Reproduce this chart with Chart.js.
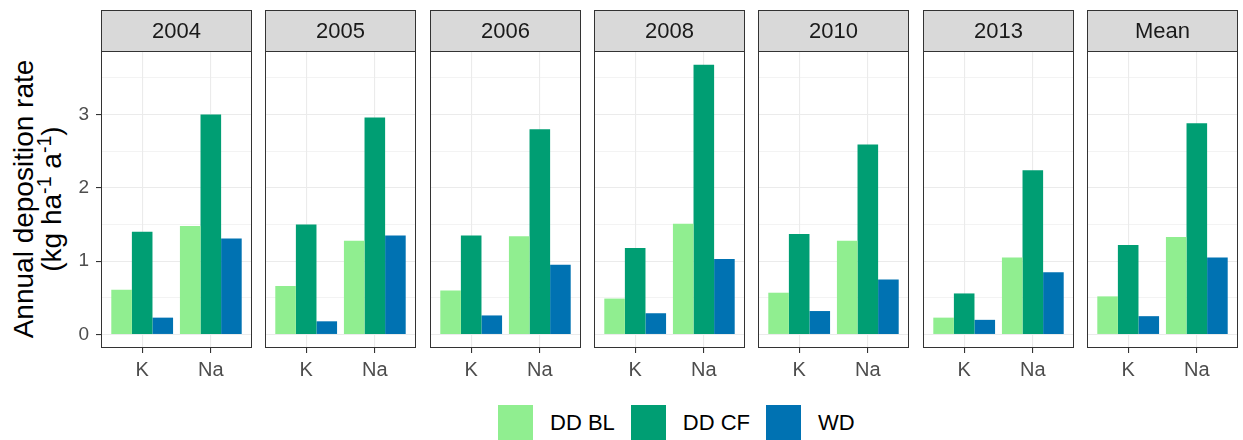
<!DOCTYPE html>
<html>
<head>
<meta charset="utf-8">
<title>Annual deposition rate</title>
<script src="https://cdn.jsdelivr.net/npm/chart.js@4.4.1/dist/chart.umd.min.js"></script>
<style>
  body { margin: 0; background: #fff; font-family: "Liberation Sans", Arial, sans-serif; }
  #wrap { position: relative; width: 1243px; height: 440px; overflow: hidden; }
  #wrap canvas { position: absolute; top: 0; }
  #ytitle {
    position: absolute; width: 340px; height: 56px; left: -132px; top: 171px;
    transform: rotate(-90deg); text-align: center; font-size: 28px; line-height: 28px; color: #000;
  }
  #ytitle sup { font-size: 0.7em; vertical-align: 0.5em; line-height: 0; }
  #legend { position: absolute; left: 498px; top: 405px; display: flex; align-items: center; }
  #legend .key { width: 35px; height: 35px; margin-right: 17px; }
  #legend .lab { font-size: 22px; color: #000; margin-right: 16px; }
</style>
</head>
<body>
<div id="wrap">
  <div id="ytitle">Annual deposition rate<br>(kg ha<sup>-1</sup> a<sup>-1</sup>)</div>
  <div id="legend"></div>
</div>
<script>
// facets and categories
const facets = ['2004', '2005', '2006', '2008', '2010', '2013', 'Mean'];
const elements = ['K', 'Na'];
const seriesNames = ['DD BL', 'DD CF', 'WD'];
const seriesColors = ['#90EE90', '#009E73', '#0072B2'];

// values per facet: [K, Na]
const ddBL = [[0.61, 1.48], [0.66, 1.28], [0.60, 1.34], [0.49, 1.51], [0.57, 1.28], [0.23, 1.05], [0.52, 1.33]];
const ddCF = [[1.40, 3.00], [1.50, 2.96], [1.35, 2.80], [1.18, 3.68], [1.37, 2.59], [0.56, 2.24], [1.22, 2.88]];
const wd   = [[0.23, 1.31], [0.18, 1.35], [0.26, 0.95], [0.29, 1.03], [0.32, 0.75], [0.20, 0.85], [0.25, 1.05]];

const yTicks = [0, 0.5, 1, 1.5, 2, 2.5, 3, 3.5];
const yMin = -0.184, yMax = 3.866;

// panel geometry
const panelLeft0 = 101, panelStep = 164.3, panelWidth = 151;
const panelTop = 51, panelBottom = 348, stripTop = 10;
const yAxisWidth = 40, xAxisHeight = 40;
const H = 440;

Chart.defaults.font.family = "'Liberation Sans', Arial, sans-serif";

// grey strip with the facet name, plus the dark panel frame
const facetFrame = {
  id: 'facetFrame',
  afterDraw(chart, args, opts) {
    const { ctx, chartArea: a } = chart;
    ctx.save();
    ctx.fillStyle = '#d9d9d9';
    ctx.strokeStyle = '#333333';
    ctx.lineWidth = 1;
    ctx.fillRect(a.left, stripTop, a.right - a.left, panelTop - stripTop);
    ctx.strokeRect(Math.round(a.left) + 0.5, stripTop + 0.5, Math.round(a.right - a.left) - 1, panelTop - stripTop);
    ctx.strokeRect(Math.round(a.left) + 0.5, Math.round(a.top) + 0.5, Math.round(a.right - a.left) - 1, Math.round(a.bottom - a.top) - 1);
    ctx.fillStyle = '#1a1a1a';
    ctx.font = "22px 'Liberation Sans', Arial, sans-serif";
    ctx.textAlign = 'center';
    ctx.textBaseline = 'middle';
    ctx.fillText(opts.label, (a.left + a.right) / 2, (stripTop + panelTop) / 2 + 1);
    ctx.restore();
  }
};

const wrap = document.getElementById('wrap');

facets.forEach((facet, i) => {
  const left = Math.round(panelLeft0 + i * panelStep);
  const first = i === 0;
  const extra = first ? left : 2;
  const canvas = document.createElement('canvas');
  canvas.width = extra + panelWidth + 2;
  canvas.height = H;
  canvas.style.left = (left - extra) + 'px';
  wrap.appendChild(canvas);

  const values = [ddBL[i], ddCF[i], wd[i]];
  const datasets = seriesNames.map((name, s) => ({
    label: name,
    data: elements.map((el, j) => ({ x: j + 1, y: values[s][j] })),
    backgroundColor: seriesColors[s],
    borderWidth: 0,
    categoryPercentage: 0.9,
    barPercentage: 1
  }));

  new Chart(canvas.getContext('2d'), {
    type: 'bar',
    data: { datasets },
    options: {
      responsive: false,
      animation: false,
      devicePixelRatio: 1,
      layout: {
        padding: { left: extra - (first ? yAxisWidth : 0), right: 2, top: panelTop, bottom: H - panelBottom - xAxisHeight }
      },
      plugins: {
        legend: { display: false },
        tooltip: { enabled: false },
        facetFrame: { label: facet }
      },
      scales: {
        x: {
          type: 'linear',
          min: 0.4,
          max: 2.6,
          offset: false,
          afterBuildTicks: (scale) => { scale.ticks = elements.map((el, j) => ({ value: j + 1 })); },
          afterFit: (scale) => { scale.height = xAxisHeight; },
          ticks: {
            callback: (v) => elements[v - 1],
            color: '#4d4d4d',
            font: { size: 20 },
            padding: 5,
            maxRotation: 0,
            autoSkip: false
          },
          grid: {
            offset: false,
            color: '#ebebeb',
            lineWidth: 1.1,
            tickColor: '#333333',
            tickLength: 5,
            tickWidth: 1.1
          },
          border: { display: false }
        },
        y: {
          min: yMin,
          max: yMax,
          afterBuildTicks: (scale) => { scale.ticks = yTicks.map(v => ({ value: v })); },
          afterFit: (scale) => { scale.width = first ? yAxisWidth : 0; },
          ticks: {
            display: first,
            callback: (v) => (v % 1 === 0 ? String(v) : ''),
            color: '#4d4d4d',
            font: { size: 19 },
            padding: 7,
            autoSkip: false
          },
          grid: {
            color: '#ebebeb',
            lineWidth: (c) => (c.tick && c.tick.value % 1 === 0 ? 1.1 : 0.6),
            drawTicks: first,
            tickColor: (c) => (c.tick && c.tick.value % 1 === 0 ? '#333333' : 'rgba(0,0,0,0)'),
            tickLength: 5,
            tickWidth: 1.1
          },
          border: { display: false }
        }
      }
    },
    plugins: [facetFrame]
  });
});

// legend row
const legend = document.getElementById('legend');
seriesNames.forEach((name, s) => {
  const key = document.createElement('div');
  key.className = 'key';
  key.style.background = seriesColors[s];
  const lab = document.createElement('div');
  lab.className = 'lab';
  lab.textContent = name;
  legend.appendChild(key);
  legend.appendChild(lab);
});
</script>
</body>
</html>
